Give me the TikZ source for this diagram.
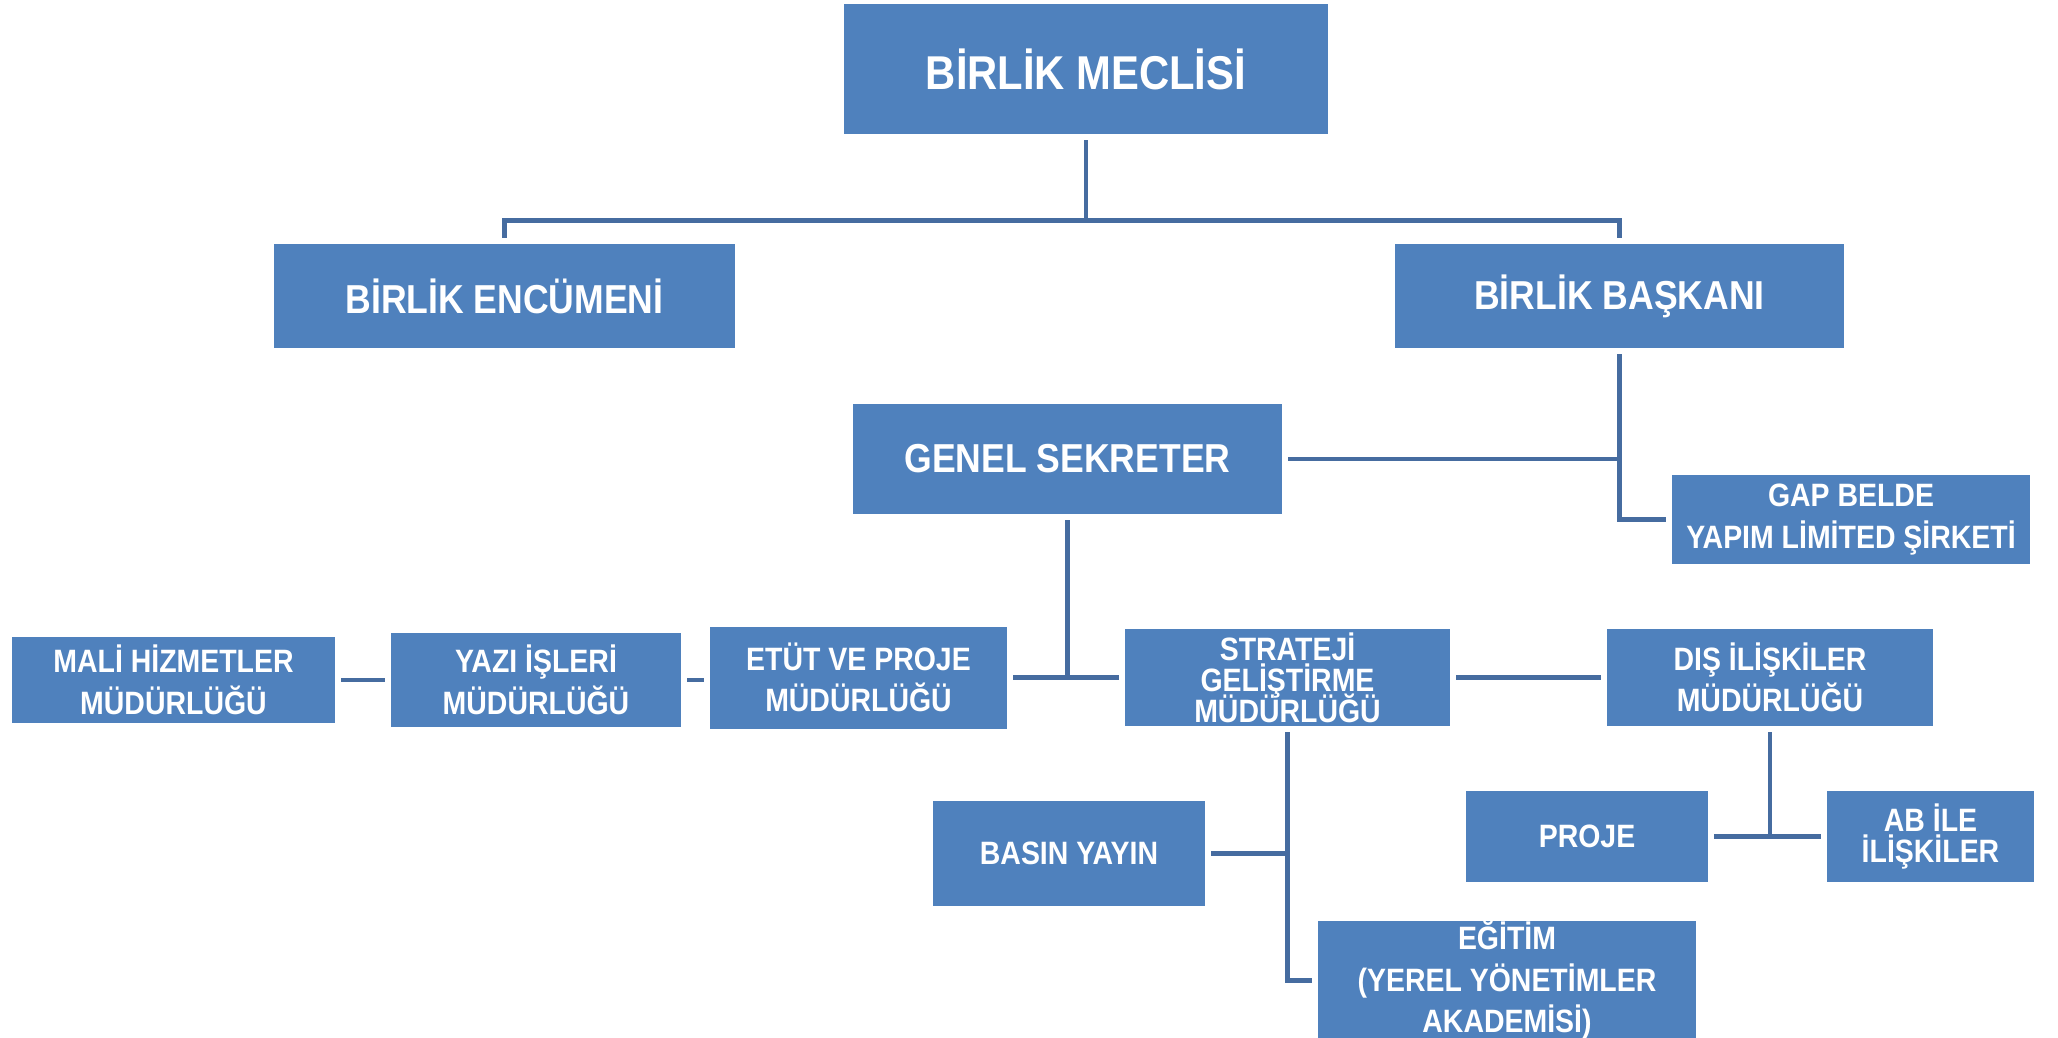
\documentclass[tikz,border=0pt]{standalone}
\usepackage{fontspec}
\usepackage{xcolor}
\usepackage{tikz}
\newfontfamily\orgfont{Liberation Sans}[FakeStretch=0.88]
\newcommand\tightlines{\setlength{\lineskiplimit}{-6pt}}
\definecolor{boxblue}{RGB}{79,129,189}
\definecolor{lineblue}{RGB}{70,108,160}
\tikzstyle{unit}=[fill=boxblue,text=white,align=center,inner sep=0pt,outer sep=1.8pt]
\tikzstyle{big}=[unit,font=\orgfont\bfseries\fontsize{13.5}{16}\selectfont]
\tikzstyle{mid}=[unit,font=\orgfont\bfseries\fontsize{11.5}{14}\selectfont]
\tikzstyle{small}=[unit,font=\orgfont\bfseries\fontsize{9.2}{11.8}\selectfont]
\tikzstyle{tight}=[unit,font={\orgfont\bfseries\fontsize{9.2}{8.8}\selectfont\tightlines}]
\tikzstyle{link}=[draw=lineblue,line width=1.2pt]

\begin{document}
\begin{tikzpicture}[x=0.1mm,y=-0.1mm]
    \useasboundingbox (0,0) rectangle (2058,1038);
    \node[big,minimum width=48.4mm,minimum height=13mm] (meclis) at (1086,69) {BİRLİK MECLİSİ};
    \node[mid,minimum width=46.1mm,minimum height=10.4mm] (encumen) at (504.5,296) {BİRLİK ENCÜMENİ};
    \node[mid,minimum width=44.9mm,minimum height=10.4mm] (baskan) at (1619.5,296) {BİRLİK BAŞKANI};
    \node[mid,minimum width=42.9mm,minimum height=11mm] (genel) at (1067.5,459) {GENEL SEKRETER};
    \node[small,minimum width=35.8mm,minimum height=8.9mm] (gap) at (1851,519.5) {GAP BELDE\\YAPIM LİMİTED ŞİRKETİ};
    \node[small,minimum width=32.3mm,minimum height=8.6mm] (mali) at (173.5,680) {MALİ HİZMETLER\\MÜDÜRLÜĞÜ};
    \node[small,minimum width=29mm,minimum height=9.4mm] (yazi) at (536,680) {YAZI İŞLERİ\\MÜDÜRLÜĞÜ};
    \node[small,minimum width=29.7mm,minimum height=10.2mm] (etut) at (858.5,677.5) {ETÜT VE PROJE\\MÜDÜRLÜĞÜ};
    \node[tight,minimum width=32.5mm,minimum height=9.7mm] (strateji) at (1287.5,677.5) {STRATEJİ\\GELİŞTİRME\\MÜDÜRLÜĞÜ};
    \node[small,minimum width=32.6mm,minimum height=9.7mm] (dis) at (1770,677.5) {DIŞ İLİŞKİLER\\MÜDÜRLÜĞÜ};
    \node[small,minimum width=27.2mm,minimum height=10.5mm] (basin) at (1069,853.5) {BASIN YAYIN};
    \node[small,minimum width=24.2mm,minimum height=9.1mm] (proje) at (1587,836.5) {PROJE};
    \node[tight,minimum width=20.7mm,minimum height=9.1mm] (ab) at (1930.5,836.5) {AB İLE\\İLİŞKİLER};
    \node[small,minimum width=37.8mm,minimum height=11.5mm] (egitim) at (1507,980.5) {EĞİTİM\\(YEREL YÖNETİMLER\\AKADEMİSİ)};
    \coordinate (bus) at (1086,220.5);
    \draw[link] (meclis.south) -- (bus);
    \draw[link] (encumen.north) |- (bus) -| (baskan.north);
    \draw[link] (genel.east) -- (genel.east -| baskan.south);
    \draw[link] (baskan.south) |- (gap.west);
    \draw[link] (genel.south) -- (genel.south |- strateji.west);
    \draw[link] (mali.east) -- (yazi.west);
    \draw[link] (yazi.east) -- (yazi.east -| etut.west);
    \draw[link] (etut.east) -- (strateji.west);
    \draw[link] (strateji.east) -- (dis.west);
    \draw[link] (strateji.south) |- (egitim.west);
    \draw[link] (basin.east) -- (basin.east -| strateji.south);
    \draw[link] (dis.south) -- (dis.south |- proje.east);
    \draw[link] (proje.east) -- (ab.west);
\end{tikzpicture}
\end{document}
